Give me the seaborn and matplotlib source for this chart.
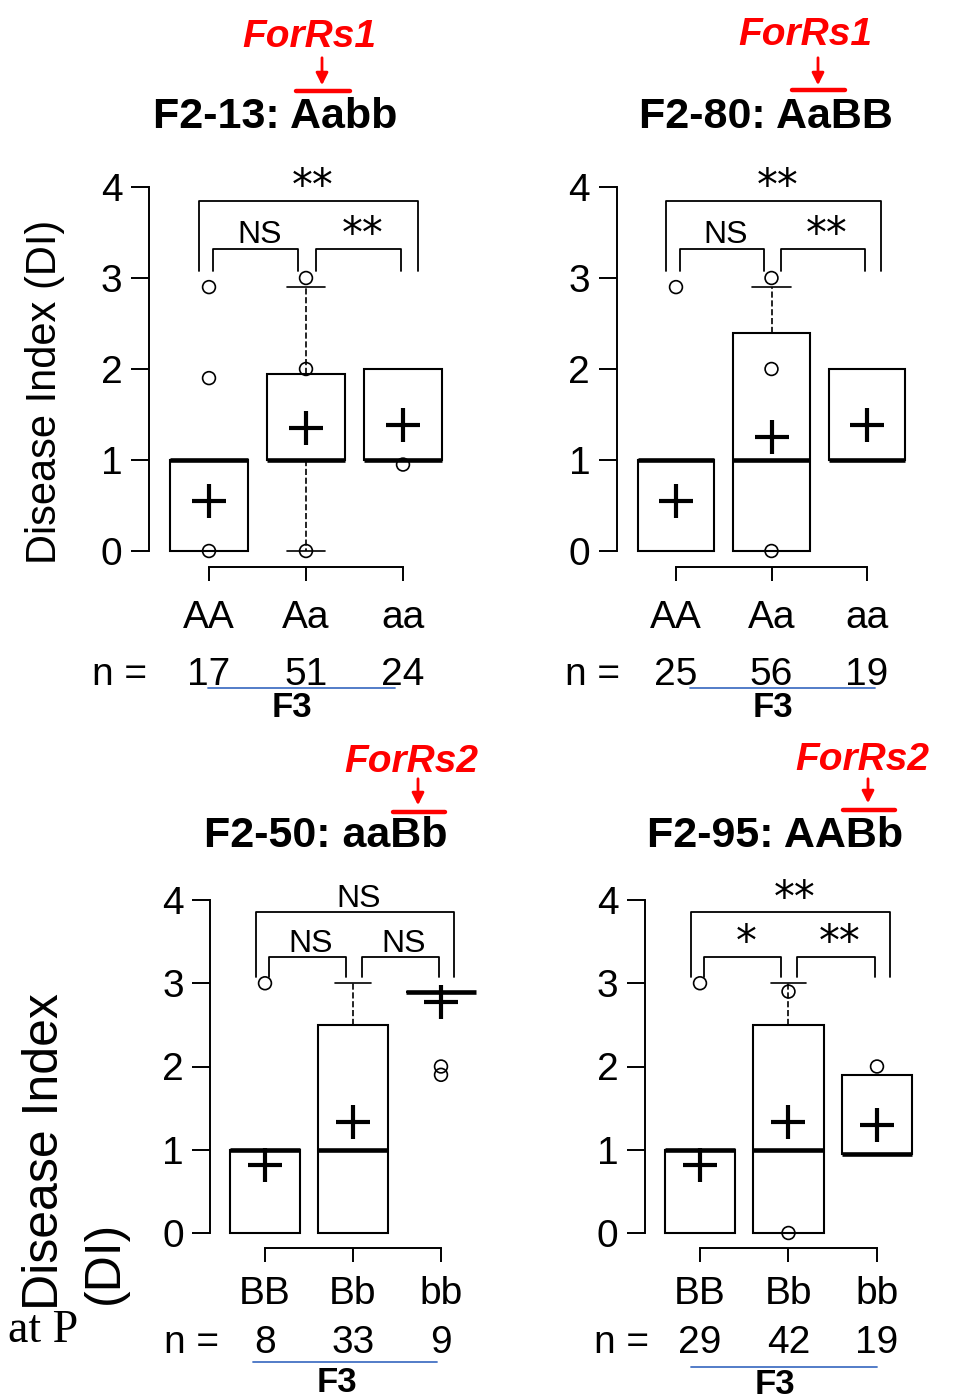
import numpy as np
import pandas as pd
import matplotlib
matplotlib.use("Agg")
import matplotlib.pyplot as plt
from matplotlib.lines import Line2D
import seaborn as sns

sns.set_theme(style="ticks")
plt.rcParams["font.family"] = ["Liberation Sans", "DejaVu Sans"]
plt.rcParams["text.color"] = "black"
plt.rcParams["axes.labelcolor"] = "black"
plt.rcParams["xtick.color"] = "black"
plt.rcParams["ytick.color"] = "black"

# ---------------- data ----------------
titles = ["F2-13: Aabb", "F2-80: AaBB", "F2-50: aaBb", "F2-95: AABb"]
loci = ["ForRs1", "ForRs1", "ForRs2", "ForRs2"]
geno_A = ["AA", "Aa", "aa"]
geno_B = ["BB", "Bb", "bb"]
genotypes = [geno_A, geno_A, geno_B, geno_B]
y_ticks = [0, 1, 2, 3, 4]

n_13 = [17, 51, 24]
n_80 = [25, 56, 19]
n_50 = [8, 33, 9]
n_95 = [29, 42, 19]

# box statistics (Disease Index) per genotype
q1_13 = [0, 1, 1];      med_13 = [1, 1, 1];      q3_13 = [1, 1.95, 2]
lo_13 = [0, 0, 1];      hi_13 = [1, 2.9, 2];     mean_13 = [0.55, 1.35, 1.38]
out_13 = [[0, 1.9, 2.9], [0, 2.0, 3.0], [0.95]]

q1_80 = [0, 0, 1];      med_80 = [1, 1, 1];      q3_80 = [1, 2.4, 2]
lo_80 = [0, 0, 1];      hi_80 = [1, 2.9, 2];     mean_80 = [0.55, 1.25, 1.38]
out_80 = [[2.9], [0, 2.0, 3.0], []]

q1_50 = [0, 0, 2.9];    med_50 = [1, 1, 2.9];    q3_50 = [1, 2.5, 2.9]
lo_50 = [0, 0, 2.9];    hi_50 = [1, 3.0, 2.9];   mean_50 = [0.82, 1.33, 2.78]
out_50 = [[3.0], [], [1.9, 2.0]]

q1_95 = [0, 0, 0.95];   med_95 = [1, 1, 0.95];   q3_95 = [1, 2.5, 1.9]
lo_95 = [0, 0, 0.95];   hi_95 = [1, 3.0, 1.9];   mean_95 = [0.82, 1.33, 1.3]
out_95 = [[3.0], [0, 2.9], [2.0]]

# significance labels: outer (1st vs 3rd), inner-left (1st vs 2nd), inner-right (2nd vs 3rd)
sig_13 = ["**", "NS", "**"]
sig_80 = ["**", "NS", "**"]
sig_50 = ["NS", "NS", "NS"]
sig_95 = ["**", "*", "**"]

panels = [
    (q1_13, med_13, q3_13, lo_13, hi_13, mean_13, out_13, n_13, sig_13),
    (q1_80, med_80, q3_80, lo_80, hi_80, mean_80, out_80, n_80, sig_80),
    (q1_50, med_50, q3_50, lo_50, hi_50, mean_50, out_50, n_50, sig_50),
    (q1_95, med_95, q3_95, lo_95, hi_95, mean_95, out_95, n_95, sig_95),
]

# ---------------- layout (pixels) ----------------
W, H = 954, 1400
fig = plt.figure(figsize=(W / 100, H / 100), dpi=100)
fig.patch.set_facecolor("white")

lay = [
    dict(x0=209, dx=97, y0=551, dy=91, pad=14),
    dict(x0=676, dx=95.5, y0=551, dy=91, pad=14),
    dict(x0=265, dx=88, y0=1233, dy=83.25, pad=10),
    dict(x0=700, dx=88.5, y0=1233, dy=83.25, pad=10),
]
title_xy = [(275, 117), (766, 117), (326, 836), (775, 836)]
locus_xy = [(309, 37), (805, 35), (411, 762), (862, 760)]
arrow_x = [322, 818, 418, 868]
arrow_y = [(55, 88), (55, 88), (776, 808), (776, 806)]
redline = [(296, 350, 91), (792, 845, 90), (393, 445, 812), (843, 895, 810)]
nlab_x = [120, 593, 192, 622]
blue = [(208, 395, 688), (690, 875, 688), (253, 437, 1362), (691, 877, 1367)]
f3_xy = [(292, 708), (773, 708), (337, 1383), (775, 1385)]
row_off = [dict(n=124), dict(n=124), dict(n=110), dict(n=110)]


def T(x, y, s, **kw):
    kw.setdefault("color", "black")
    fig.text(x / W, 1 - y / H, s, **kw)


def L(x1, x2, y1, y2, **kw):
    fig.add_artist(Line2D([x1 / W, x2 / W], [1 - y1 / H, 1 - y2 / H],
                          transform=fig.transFigure, **kw))


for k, (q1, med, q3, lo, hi, mean, outl, nn, sig) in enumerate(panels):
    g = lay[k]
    left = g["x0"] - 0.6 * g["dx"]
    width = 3.2 * g["dx"]
    bot = g["y0"] + 0.12 * g["dy"]
    top = g["y0"] - 4.02 * g["dy"]
    ax = fig.add_axes([left / W, 1 - bot / H, width / W, (bot - top) / H])
    ax.set_xlim(-0.6, 2.6)
    ax.set_ylim(-0.12, 4.02)
    pos = np.arange(len(genotypes[k]))

    stats = [dict(q1=q1[i], med=med[i], q3=q3[i], whislo=lo[i], whishi=hi[i],
                  fliers=[], label=genotypes[k][i]) for i in range(3)]
    ax.bxp(stats, positions=pos, widths=0.8, showfliers=False, patch_artist=True,
           manage_ticks=False,
           boxprops=dict(facecolor="white", edgecolor="black", linewidth=1.5),
           medianprops=dict(color="black", linewidth=3.3, solid_capstyle="butt"),
           whiskerprops=dict(color="black", linestyle="--", linewidth=1.2),
           capprops=dict(color="black", linewidth=1.2))
    for a in ax.get_children():
        if isinstance(a, Line2D) or hasattr(a, "set_clip_on"):
            a.set_clip_on(False)

    dm = pd.DataFrame({"x": pos, "y": mean})
    sns.scatterplot(data=dm, x="x", y="y", marker="+", s=580, color="black",
                    linewidth=3.0, ax=ax, legend=False, clip_on=False, zorder=5)
    fx = [i for i in range(3) for _ in outl[i]]
    fy = [v for i in range(3) for v in outl[i]]
    if fx:
        do = pd.DataFrame({"x": fx, "y": fy})
        sns.scatterplot(data=do, x="x", y="y", marker="o", s=85, ax=ax,
                        legend=False, clip_on=False, zorder=4)
        c = ax.collections[-1]
        c.set_facecolor("none")
        c.set_edgecolor("black")
        c.set_linewidth(1.2)

    # significance brackets
    spans = [(-0.1, 2.15, 3.85), (0.04, 0.92, 3.32), (1.1, 1.98, 3.32)]
    for (xa, xb, yb), lab in zip(spans, sig):
        ax.plot([xa, xa, xb, xb], [3.08, yb, yb, 3.08], color="black", lw=1.3,
                clip_on=False)
        if "*" in lab:
            ax.text((xa + xb) / 2 + 0.04, yb + 0.02, lab, ha="center", va="baseline",
                    fontsize=30, family="DejaVu Sans", color="black")
        else:
            ax.text((xa + xb) / 2 + 0.04, yb + 0.06, lab, ha="center", va="baseline",
                    fontsize=23, color="black")

    ax.set_xlabel("")
    ax.set_ylabel("")
    ax.set_xticks(pos)
    ax.set_yticks(y_ticks)
    sns.despine(ax=ax, trim=True, offset={"left": 1.5, "bottom": 3.5})
    ax.set_xticklabels(genotypes[k])
    ax.set_yticklabels([str(v) for v in y_ticks])
    ax.tick_params(axis="y", length=13, width=1.4, pad=6, labelsize=28, colors="black")
    ax.tick_params(axis="x", length=10, width=1.4, pad=g["pad"], labelsize=28,
                   colors="black")
    for s in ("left", "bottom"):
        ax.spines[s].set_linewidth(1.4)
        ax.spines[s].set_color("black")
    ax.patch.set_alpha(0)

    # n = row
    ny = g["y0"] + row_off[k]["n"]
    T(nlab_x[k], ny, "n =", ha="center", va="center", fontsize=28)
    for i in range(3):
        T(g["x0"] + i * g["dx"], ny, str(nn[i]), ha="center", va="center", fontsize=28)
    bx1, bx2, by = blue[k]
    L(bx1, bx2, by, by, color="#4472C4", lw=1.3)
    T(f3_xy[k][0], f3_xy[k][1], "F3", ha="center", va="center", fontsize=25,
      fontweight="bold")

    # titles and locus markers
    T(title_xy[k][0], title_xy[k][1], titles[k], ha="center", va="center",
      fontsize=31, fontweight="bold")
    T(locus_xy[k][0], locus_xy[k][1], loci[k], ha="center", va="center",
      fontsize=28, fontweight="bold", fontstyle="italic", color="#FF0000")
    ya, yb2 = arrow_y[k]
    fig.add_artist(matplotlib.patches.FancyArrowPatch(
        (arrow_x[k] / W, 1 - ya / H), (arrow_x[k] / W, 1 - yb2 / H),
        transform=fig.transFigure, arrowstyle="-|>", mutation_scale=18,
        color="#FF0000", lw=2))
    rx1, rx2, ry = redline[k]
    L(rx1, rx2, ry, ry, color="#FF0000", lw=3.2)

# y labels
T(45, 392, "Disease Index (DI)", rotation=90, ha="center", va="center", fontsize=30)
T(45, 1152, "Disease Index", rotation=90, ha="center", va="center", fontsize=36)
T(105, 1262, "(DI)", rotation=90, ha="center", va="center", fontsize=36)
T(8, 1342, "at P", ha="left", va="baseline", fontsize=33,
  family=["Liberation Serif", "DejaVu Serif"])

fig.savefig("out.png", dpi=100, facecolor="white")
